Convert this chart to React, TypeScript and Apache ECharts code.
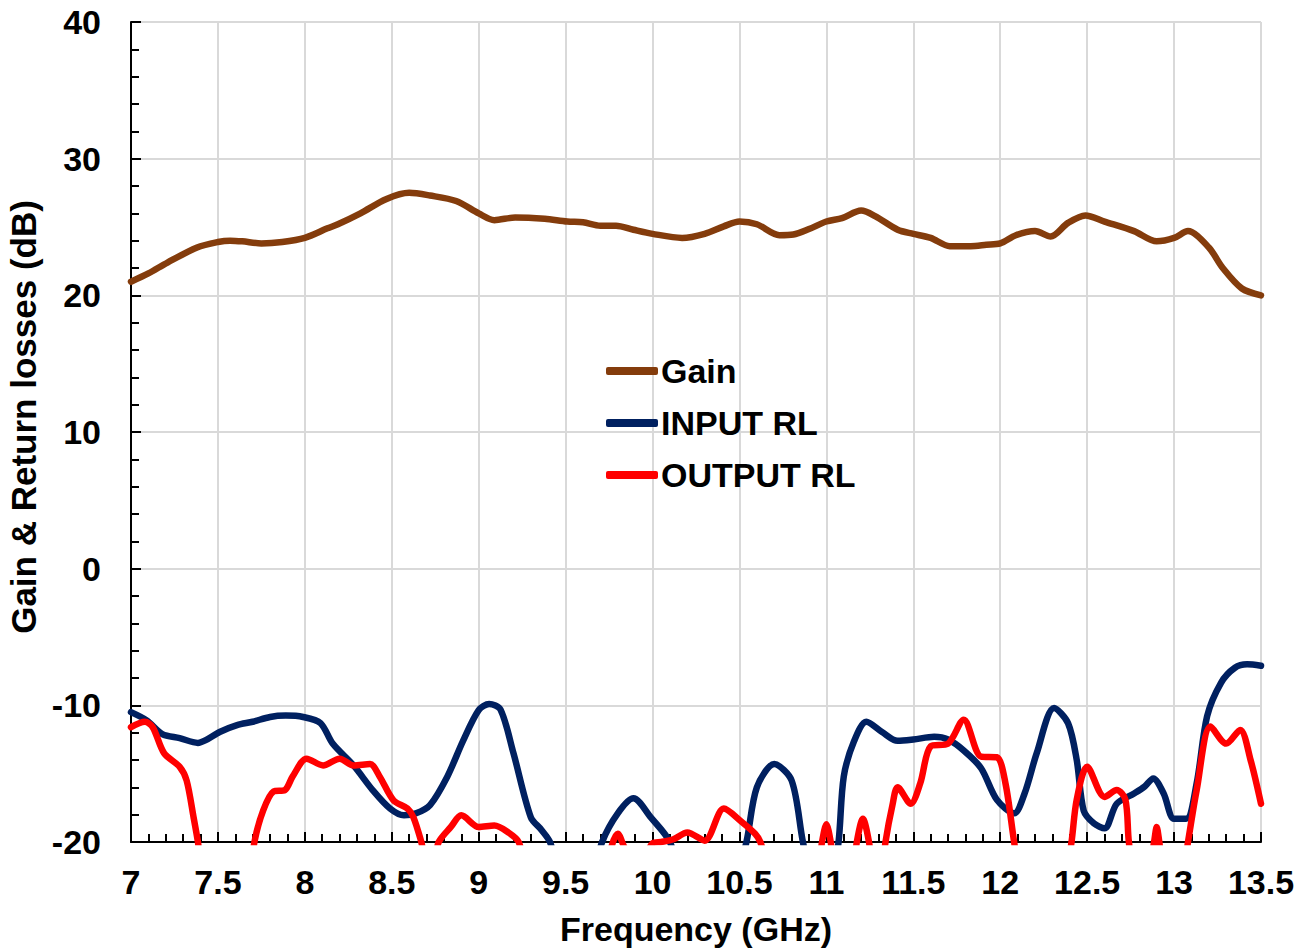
import React, { useEffect, useRef } from "react";
import * as echarts from "echarts";

// Frequency (GHz) / value (dB) readings
const gainFreq = [7.0, 7.1, 7.21, 7.38, 7.5, 7.57, 7.64, 7.75, 7.87, 8.0, 8.13, 8.19, 8.32, 8.47, 8.6, 8.72, 8.87, 9.0, 9.09, 9.21, 9.38, 9.51, 9.6, 9.7, 9.79, 9.89, 10.0, 10.17, 10.3, 10.41, 10.5, 10.6, 10.73, 10.81, 10.9, 11.0, 11.09, 11.2, 11.28, 11.41, 11.5, 11.6, 11.71, 11.83, 11.92, 12.0, 12.09, 12.2, 12.29, 12.39, 12.49, 12.6, 12.77, 12.9, 13.0, 13.08, 13.2, 13.28, 13.39, 13.5];
const gainDb = [21.0, 21.6, 22.4, 23.5, 23.9, 24.0, 23.95, 23.8, 23.9, 24.2, 24.9, 25.2, 26.0, 27.05, 27.5, 27.3, 26.9, 26.0, 25.5, 25.7, 25.6, 25.4, 25.35, 25.1, 25.1, 24.8, 24.5, 24.2, 24.5, 25.05, 25.4, 25.2, 24.4, 24.45, 24.85, 25.4, 25.65, 26.2, 25.8, 24.8, 24.5, 24.2, 23.6, 23.6, 23.7, 23.8, 24.4, 24.7, 24.3, 25.3, 25.85, 25.4, 24.7, 23.95, 24.2, 24.7, 23.5, 22.0, 20.5, 20.0];

const inputFreq = [7.0, 7.09, 7.18, 7.28, 7.385, 7.43, 7.51, 7.61, 7.7, 7.8, 7.89, 7.99, 8.09, 8.16, 8.28, 8.39, 8.49, 8.57, 8.64, 8.72, 8.82, 8.91, 9.0, 9.06, 9.125, 9.2, 9.3, 9.36, 9.41, 9.47, 9.6, 9.66, 9.71, 9.8, 9.89, 9.99, 10.1, 10.17, 10.3, 10.47, 10.54, 10.6, 10.7, 10.8, 10.865, 10.92, 10.98, 11.03, 11.07, 11.1, 11.16, 11.23, 11.32, 11.41, 11.5, 11.62, 11.7, 11.79, 11.89, 11.98, 12.08, 12.14, 12.21, 12.31, 12.39, 12.44, 12.48, 12.54, 12.6, 12.67, 12.77, 12.83, 12.88, 12.94, 13.0, 13.07, 13.13, 13.19, 13.27, 13.35, 13.42, 13.5];
const inputDb = [-10.5, -11.1, -12.1, -12.4, -12.75, -12.55, -11.95, -11.45, -11.2, -10.85, -10.75, -10.85, -11.3, -12.8, -14.4, -16.2, -17.55, -18.05, -17.9, -17.3, -15.2, -12.6, -10.35, -9.9, -10.3, -13.5, -18.2, -19.1, -20.0, -22.5, -25.0, -22.5, -20.0, -17.9, -16.8, -18.2, -20.0, -23.0, -25.0, -23.0, -20.0, -16.0, -14.3, -15.5, -20.0, -23.0, -24.0, -23.0, -20.0, -15.2, -12.6, -11.2, -11.95, -12.6, -12.5, -12.3, -12.5, -13.3, -14.6, -16.9, -17.9, -16.45, -13.5, -10.2, -11.3, -14.0, -17.7, -18.65, -19.0, -17.2, -16.45, -15.95, -15.35, -16.45, -18.3, -18.3, -15.7, -10.8, -8.35, -7.25, -7.0, -7.1];

const outputFreq = [7.0, 7.08, 7.125, 7.19, 7.28, 7.32, 7.36, 7.385, 7.42, 7.55, 7.68, 7.71, 7.76, 7.82, 7.885, 7.93, 8.01, 8.105, 8.2, 8.28, 8.375, 8.43, 8.51, 8.59, 8.625, 8.67, 8.7, 8.74, 8.77, 8.84, 8.9, 9.0, 9.09, 9.17, 9.23, 9.3, 9.5, 9.72, 9.765, 9.8, 9.835, 9.9, 9.96, 10.0, 10.05, 10.12, 10.2, 10.3, 10.41, 10.51, 10.59, 10.62, 10.7, 10.85, 10.94, 10.975, 11.0, 11.025, 11.06, 11.14, 11.175, 11.21, 11.245, 11.28, 11.31, 11.34, 11.38, 11.41, 11.485, 11.54, 11.6, 11.7, 11.79, 11.89, 11.98, 12.03, 12.08, 12.12, 12.25, 12.37, 12.41, 12.44, 12.5, 12.6, 12.67, 12.72, 12.74, 12.78, 12.84, 12.885, 12.9, 12.915, 12.95, 13.04, 13.08, 13.13, 13.21, 13.3, 13.38, 13.44, 13.5];
const outputDb = [-11.6, -11.2, -11.6, -13.5, -14.5, -15.5, -18.2, -20.0, -23.0, -26.0, -23.0, -20.0, -17.7, -16.3, -16.2, -15.2, -13.9, -14.4, -13.9, -14.4, -14.3, -15.2, -16.95, -17.55, -18.2, -20.0, -21.5, -21.5, -20.0, -18.9, -18.05, -18.9, -18.8, -19.3, -20.0, -23.0, -26.0, -23.0, -20.3, -19.4, -20.3, -22.0, -21.0, -20.1, -20.0, -19.8, -19.3, -19.9, -17.55, -18.5, -19.4, -20.0, -23.0, -24.0, -23.0, -20.0, -18.7, -20.0, -23.0, -23.0, -20.0, -18.3, -20.0, -23.0, -23.0, -20.0, -17.3, -16.0, -17.2, -15.7, -13.0, -12.8, -11.05, -13.75, -13.8, -15.7, -20.0, -23.0, -25.0, -23.0, -20.0, -16.9, -14.5, -16.7, -16.2, -16.9, -20.0, -23.0, -23.0, -20.0, -18.9, -20.0, -23.0, -23.0, -20.0, -16.2, -11.55, -12.8, -11.8, -14.0, -17.2];

const seriesNames = ["Gain", "INPUT RL", "OUTPUT RL"];
const seriesColors = ["#843C0C", "#002060", "#FF0000"];

const xMin = 7;
const xMax = 13.5;
const xStep = 0.5;
const yMin = -20;
const yMax = 40;
const yStep = 10;

const FONT = "'Liberation Sans', Arial, sans-serif";

function zip(f: number[], v: number[]) {
  return f.map((x, i) => [x, v[i]]);
}

export default function App() {
  const ref = useRef<HTMLDivElement>(null);
  useEffect(() => {
    if (!ref.current) return;
    const chart = echarts.init(ref.current, null, { renderer: "svg" });
    const labelStyle = { fontFamily: FONT, fontSize: 34, fontWeight: "bold" as const, color: "#000" };
    const datasets = [zip(gainFreq, gainDb), zip(inputFreq, inputDb), zip(outputFreq, outputDb)];
    chart.setOption({
      animation: false,
      backgroundColor: "#fff",
      grid: { left: 131, right: 47, top: 22, bottom: 107, containLabel: false, outerBoundsMode: "none" },
      legend: {
        orient: "vertical",
        left: 601,
        top: 349,
        itemWidth: 52,
        itemHeight: 8,
        itemGap: 18,
        icon: "roundRect",
        data: seriesNames,
        textStyle: { ...labelStyle, padding: [0, 0, 0, -2] },
      },
      xAxis: {
        type: "value",
        min: xMin,
        max: xMax,
        interval: xStep,
        name: "Frequency (GHz)",
        nameLocation: "middle",
        nameGap: 70,
        nameTextStyle: labelStyle,
        axisLine: { onZero: false, lineStyle: { color: "#000", width: 2 } },
        axisTick: { inside: true, length: 10, lineStyle: { color: "#000", width: 2 } },
        minorTick: { show: true, splitNumber: 5, length: 8, lineStyle: { color: "#000", width: 2 } },
        axisLabel: { ...labelStyle, margin: 23 },
        splitLine: { show: true, lineStyle: { color: "#d9d9d9", width: 2 } },
      },
      yAxis: {
        type: "value",
        min: yMin,
        max: yMax,
        interval: yStep,
        name: "Gain & Return losses (dB)",
        nameLocation: "middle",
        nameGap: 88,
        nameRotate: 90,
        nameTextStyle: { ...labelStyle, fontSize: 35, padding: [0, 0, 0, 30] },
        axisLine: { show: true, onZero: false, lineStyle: { color: "#000", width: 2 } },
        axisTick: { show: true, inside: true, length: 10, lineStyle: { color: "#000", width: 2 } },
        minorTick: { show: true, splitNumber: 5, length: 8, lineStyle: { color: "#000", width: 2 } },
        axisLabel: { ...labelStyle, margin: 30 },
        splitLine: { show: true, lineStyle: { color: "#d9d9d9", width: 2 } },
      },
      series: seriesNames.map((name, i) => ({
        name,
        type: "line",
        data: datasets[i],
        showSymbol: false,
        symbol: "none",
        smooth: 0.3,
        clip: true,
        color: seriesColors[i],
        lineStyle: { color: seriesColors[i], width: 6.5, cap: "round", join: "round" },
        itemStyle: { color: seriesColors[i] },
      })),
    });
    return () => chart.dispose();
  }, []);
  return (
    <div
      ref={ref}
      style={{ position: "absolute", left: 0, top: 0, width: 1308, height: 949, background: "#fff" }}
    />
  );
}
